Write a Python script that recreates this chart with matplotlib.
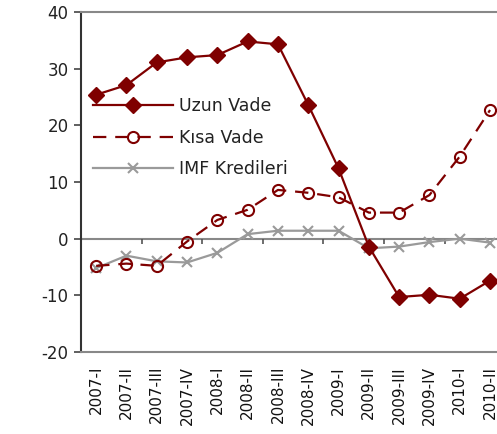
import matplotlib
matplotlib.use("Agg")
import matplotlib.pyplot as plt
import numpy as np

categories = ["2007-I", "2007-II", "2007-III", "2007-IV", "2008-I", "2008-II", "2008-III",
              "2008-IV", "2009-I", "2009-II", "2009-III", "2009-IV", "2010-I", "2010-II"]
uzun_vade = [25.4, 27.1, 31.1, 32.0, 32.4, 34.8, 34.3, 23.6, 12.4, -1.4, -10.3, -9.9, -10.6, -7.4]
kisa_vade = [-4.8, -4.4, -4.8, -0.5, 3.3, 5.1, 8.6, 8.1, 7.3, 4.6, 4.6, 7.7, 14.5, 22.7]
imf_kredileri = [-5.2, -3.0, -4.0, -4.2, -2.5, 0.8, 1.4, 1.4, 1.4, -1.7, -1.4, -0.6, 0.0, -0.7]
y_ticks = [-20, -10, 0, 10, 20, 30, 40]

plt.rcParams['font.family'] = ['DejaVu Sans']
fig = plt.figure(figsize=(4.97, 4.34), dpi=100)
ax = fig.add_axes([81/497, 1-352/434, 14*30.3/497, 340/434])

x = np.arange(len(categories))
red = "#7f0000"
gray = "#9a9a9a"

ax.axhline(0, color="#888888", lw=1.5, zorder=1)
ax.vlines(x[1::2][:-1] + 0.5, -0.9, 0, color="#555555", lw=1.2, zorder=1)

ax.plot(x, uzun_vade, color=red, lw=1.6, marker="D", ms=8, mfc=red, mec=red,
        label="Uzun Vade", zorder=4)
ax.plot(x, kisa_vade, color=red, lw=1.6, ls=(0, (6, 4)), marker="o", ms=8, mfc="none",
        mec=red, mew=1.5, label="Kısa Vade", zorder=3)
ax.plot(x, imf_kredileri, color=gray, lw=1.6, marker="x", ms=7, mew=1.5,
        label="IMF Kredileri", zorder=2)

ax.set_xlim(-0.5, len(categories) - 0.5)
ax.set_ylim(-20, 40)
ax.set_yticks(y_ticks)
ax.set_yticklabels([str(v) for v in y_ticks], fontsize=12, color="#222222")
ax.tick_params(axis="y", direction="out", length=5, width=1.2, color="#444444", pad=4)
ax.set_xticks(x)
ax.set_xticklabels(categories, rotation=90, fontsize=11, color="#111111")
ax.tick_params(axis="x", length=0, pad=10)

for s in ["top", "bottom"]:
    ax.spines[s].set_color("#888888")
    ax.spines[s].set_linewidth(1.5)
ax.spines["right"].set_visible(False)
ax.spines["left"].set_color("#333333")
ax.spines["left"].set_linewidth(1.5)

leg = ax.legend(loc="upper left", bbox_to_anchor=(0.0, 0.785), frameon=False, fontsize=12.5,
                handlelength=4.6, handletextpad=0.35, labelspacing=0.78, borderaxespad=0.3)
for t in leg.get_texts():
    t.set_color("#222222")

fig.savefig("out.png", dpi=100)
